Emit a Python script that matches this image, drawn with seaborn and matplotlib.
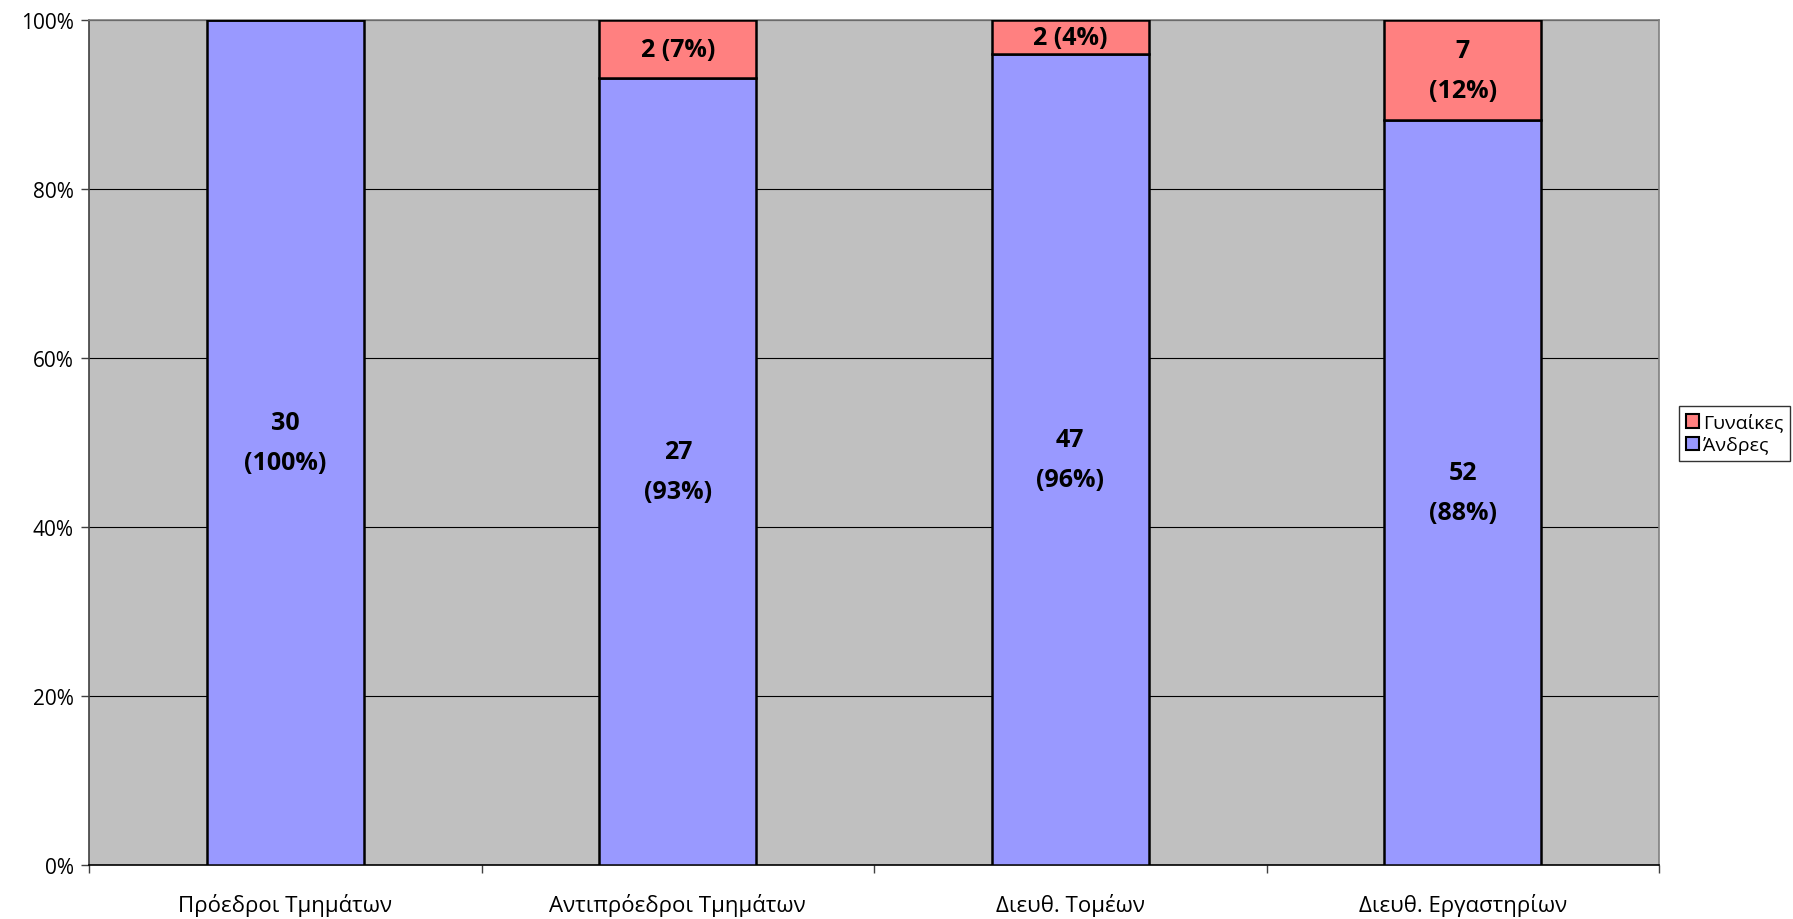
import matplotlib
matplotlib.use("Agg")
import matplotlib.pyplot as plt
import matplotlib.ticker as mticker
from matplotlib.patches import Patch
import seaborn as sns
import pandas as pd

# data
categories = ["Πρόεδροι Τμημάτων", "Αντιπρόεδροι Τμημάτων", "Διευθ. Τομέων", "Διευθ. Εργαστηρίων"]
men = [30, 27, 47, 52]
women = [0, 2, 2, 7]

men_color = "#9999FF"
women_color = "#FF8080"

sns.set_theme(style="white")
plt.rcParams["font.family"] = ["Open Sans", "DejaVu Sans"]
plt.rcParams["text.color"] = "black"
plt.rcParams["xtick.color"] = "black"
plt.rcParams["ytick.color"] = "black"

df = pd.DataFrame({"category": categories, "men": men, "women": women})
df["total"] = df["men"] + df["women"]
df["men_pct"] = df["men"] / df["total"] * 100
df["women_pct"] = df["women"] / df["total"] * 100

fig = plt.figure(figsize=(17.93, 9.2), dpi=100)
ax = fig.add_axes([89 / 1793, 1 - 866 / 920, (1659 - 89) / 1793, (866 - 21) / 920])
ax.set_facecolor("#C0C0C0")

sns.barplot(data=df, x="category", y="men_pct", color=men_color, width=0.4,
            edgecolor="black", linewidth=1.8, saturation=1, ax=ax, zorder=3)
ax.bar(range(len(df)), df["women_pct"], bottom=df["men_pct"], width=0.4,
       color=women_color, edgecolor="black", linewidth=1.8, zorder=3)

# labels
lab_kw = dict(ha="center", va="center", fontsize=18, fontweight="bold", color="black",
              zorder=4, linespacing=1.8)
for i, row in df.iterrows():
    ax.text(i, row["men_pct"] / 2, f"{row['men']}\n({row['men_pct']:.0f}%)", **lab_kw)
    if row["women"] > 0:
        if row["women_pct"] > 10:
            txt = f"{row['women']}\n({row['women_pct']:.0f}%)"
        else:
            txt = f"{row['women']} ({row['women_pct']:.0f}%)"
        ax.text(i, row["men_pct"] + row["women_pct"] / 2, txt, **lab_kw)

ax.set_ylim(0, 100)
ax.set_xlim(-0.5, len(df) - 0.5)
ax.yaxis.set_major_locator(mticker.MultipleLocator(20))
ax.yaxis.set_major_formatter(mticker.FuncFormatter(lambda v, p: f"{v:.0f}%"))
ax.grid(axis="y", color="black", linewidth=0.8, zorder=1)
ax.set_xlabel("")
ax.set_ylabel("")

ax.set_xticks(range(len(df)))
ax.set_xticklabels(categories)
ax.set_xticks([i + 0.5 for i in range(-1, len(df))], minor=True)
ax.tick_params(axis="x", which="major", length=0, pad=20, labelsize=16)
ax.tick_params(axis="x", which="minor", length=6, width=1, color="#404040", direction="out", bottom=True)
ax.tick_params(axis="y", length=6, width=1, color="#404040", direction="out", left=True, pad=5, labelsize=15)

for s in ["top", "right"]:
    ax.spines[s].set_color("#808080")
    ax.spines[s].set_linewidth(1.2)
ax.spines["left"].set_color("#404040")
ax.spines["bottom"].set_color("black")
ax.spines["left"].set_linewidth(1.2)
ax.spines["bottom"].set_linewidth(1.2)

handles = [Patch(facecolor=women_color, edgecolor="black", linewidth=1.5, label="Γυναίκες"),
           Patch(facecolor=men_color, edgecolor="black", linewidth=1.5, label="Άνδρες")]
leg = fig.legend(handles=handles, loc="upper left", bbox_to_anchor=(1679 / 1793, 1 - 407 / 920),
                 frameon=True, fancybox=False, fontsize=14, handlelength=0.7, handleheight=0.7,
                 handletextpad=0.2, borderpad=0.35, labelspacing=0.25, borderaxespad=0)
leg.get_frame().set_edgecolor("black")
leg.get_frame().set_linewidth(1)

fig.savefig("out.png", dpi=100)
